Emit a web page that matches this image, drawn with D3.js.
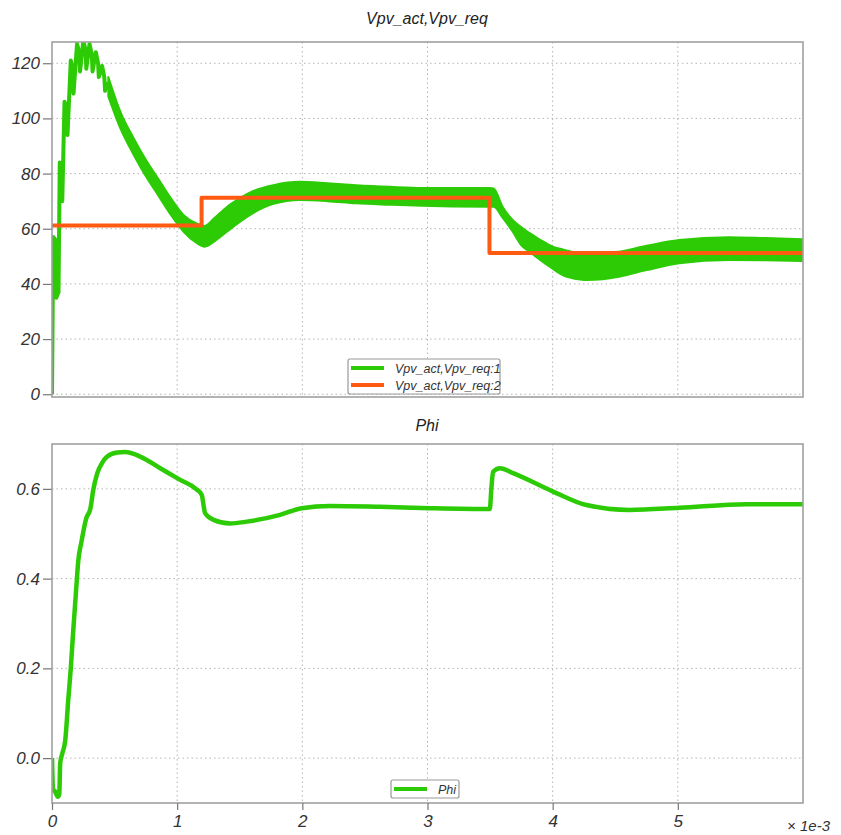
<!DOCTYPE html>
<html><head><meta charset="utf-8">
<script src="https://cdn.jsdelivr.net/npm/d3@7"></script>
<style>
body{margin:0;background:#fff;}
svg{display:block;font-family:"Liberation Sans",Arial,sans-serif;}
</style></head>
<body><div id="chart"></div>
<script>
// ---- data (time in units of 1e-3 s) ----
const xTicks = [0,1,2,3,4,5];
const vTicks = [0,20,40,60,80,100,120];
const phiTicks = [0.0,0.2,0.4,0.6];
const phiTickLabels = ["0.0","0.2","0.4","0.6"];

// Vpv_act early switching ripple (t, value)
const vActEarlyT = [0,0.010,0.028,0.034,0.052,0.062,0.078,0.082,0.100,0.118,0.124,0.150,0.166,0.172,0.200,0.218,0.224,0.250,0.268,0.274,0.300,0.318,0.324,0.350,0.368,0.374,0.400,0.418,0.424,0.450];
const vActEarlyV = [0,57,56,35,37,84,80,70,106,104,94,121,118,109,127,124,117,128,125,118,127,123,117,124,120,115,119,115,110,113];

// Vpv_act ripple band (lower / upper envelope)
const bandT  = [0.45,0.55,0.65,0.75,0.85,0.95,1.05,1.15,1.22,1.30,1.40,1.50,1.60,1.77,1.98,2.20,2.43,2.70,2.96,3.20,3.50,3.53,3.60,3.68,3.75,3.82,3.90,4.00,4.08,4.22,4.27,4.40,4.53,4.75,5.01,5.41,5.70,6.00];
const bandHi = [115,102,93,85,78,71,65,62,61,64,68,71,73.5,75.8,77,76.5,75.8,75.2,74.8,74.8,74.8,74.5,68,63.2,60.5,58.3,56,53.5,52.5,51.1,51,51.2,51.7,53.8,55.9,56.9,56.6,56.2];
const bandLo = [108,96,87,79,72,65,59,55,53.5,55.5,59,62.5,65.5,69,70.4,70,69.2,68.7,68.3,68.1,68,68,64,59,54,51.5,48.7,45.5,43.2,41.6,41.4,41.7,42.6,45,47.5,48.7,48.6,48.3];

// Vpv_req (step reference)
const vReqT = [0,1.195,1.195,3.495,3.495,6.0];
const vReqV = [61.2,61.2,71.2,71.2,51.2,51.2];

// Phi
const phiT = [0,0.008,0.026,0.046,0.058,0.066,0.082,0.106,0.130,0.150,0.170,0.194,0.210,0.234,0.274,0.306,0.330,0.362,0.401,0.441,0.521,0.585,0.705,0.865,1.024,1.150,1.197,1.210,1.223,1.290,1.423,1.556,1.822,1.995,2.221,2.620,3.020,3.498,3.510,3.524,3.578,3.684,4.003,4.270,4.615,5.014,5.547,6.0];
const phiV = [0.0,-0.068,-0.075,-0.086,-0.080,-0.010,0.010,0.040,0.130,0.200,0.285,0.380,0.440,0.480,0.535,0.555,0.598,0.635,0.658,0.672,0.681,0.682,0.672,0.646,0.620,0.600,0.586,0.565,0.546,0.531,0.523,0.527,0.542,0.557,0.562,0.560,0.557,0.555,0.600,0.638,0.646,0.635,0.594,0.564,0.553,0.558,0.566,0.566];

const legend1 = ["Vpv_act,Vpv_req:1","Vpv_act,Vpv_req:2"];
const legend2 = ["Phi"];

const GREEN = "#2ccb05", ORANGE = "#ff5a12";

// ---- layout ----
const W = 841, H = 835;
const svg = d3.select("#chart").append("svg").attr("width",W).attr("height",H);
const L = 52, R = 803;
const top1 = 42, bot1 = 397, top2 = 444, bot2 = 803;

const x = d3.scaleLinear().domain([0,6]).range([L,R]);
const y1 = d3.scaleLinear().domain([-1,127.7]).range([bot1,top1]);
const y2 = d3.scaleLinear().domain([-0.1,0.7]).range([bot2,top2]);

function panel(y, top, bot, ticks, labels, id){
  const g = svg.append("g");
  // grid
  g.selectAll(".gx").data(xTicks.filter(d=>d>0)).join("line")
    .attr("x1",d=>x(d)).attr("x2",d=>x(d)).attr("y1",top).attr("y2",bot)
    .attr("stroke","#b4b4b4").attr("stroke-width",1).attr("stroke-dasharray","1.5,3");
  g.selectAll(".gy").data(ticks).join("line")
    .attr("x1",L).attr("x2",R).attr("y1",d=>y(d)).attr("y2",d=>y(d))
    .attr("stroke","#b4b4b4").attr("stroke-width",1).attr("stroke-dasharray","1.5,3");
  // y axis
  const ax = d3.axisLeft(y).tickValues(ticks).tickSize(9).tickPadding(3)
    .tickFormat((d,i)=>labels[i]);
  const ag = g.append("g").attr("transform",`translate(${L},0)`).call(ax);
  ag.select(".domain").remove();
  ag.selectAll(".tick line").attr("stroke","#777").attr("stroke-width",1.2);
  ag.selectAll(".tick text").attr("font-size",17).attr("font-style","italic")
    .attr("fill","#333").attr("font-family","Liberation Sans, Arial, sans-serif");
  // clip
  svg.append("clipPath").attr("id",id).append("rect")
    .attr("x",L).attr("y",top).attr("width",R-L).attr("height",bot-top);
  return g;
}

const g1 = panel(y1, top1, bot1, vTicks, vTicks.map(String), "c1");
const g2 = panel(y2, top2, bot2, phiTicks, phiTickLabels, "c2");

// ---- top plot series ----
const p1 = svg.append("g").attr("clip-path","url(#c1)");
const band = bandT.map((t,i)=>({t, lo:bandLo[i], hi:bandHi[i]}));
p1.append("path").datum(band)
  .attr("d", d3.area().x(d=>x(d.t)).y0(d=>y1(d.lo)).y1(d=>y1(d.hi)).curve(d3.curveMonotoneX))
  .attr("fill",GREEN).attr("stroke",GREEN).attr("stroke-width",2).attr("stroke-linejoin","round");
const early = vActEarlyT.map((t,i)=>({t, v:vActEarlyV[i]}));
p1.append("path").datum(early)
  .attr("d", d3.line().x(d=>x(d.t)).y(d=>y1(d.v)))
  .attr("fill","none").attr("stroke",GREEN).attr("stroke-width",4).attr("stroke-linejoin","round");
const req = vReqT.map((t,i)=>({t, v:vReqV[i]}));
p1.append("path").datum(req)
  .attr("d", d3.line().x(d=>x(d.t)).y(d=>y1(d.v)))
  .attr("fill","none").attr("stroke",ORANGE).attr("stroke-width",4).attr("stroke-linejoin","round");

// ---- bottom plot series ----
const p2 = svg.append("g").attr("clip-path","url(#c2)");
const phi = phiT.map((t,i)=>({t, v:phiV[i]}));
p2.append("path").datum(phi)
  .attr("d", d3.line().x(d=>x(d.t)).y(d=>y2(d.v)).curve(d3.curveMonotoneX))
  .attr("fill","none").attr("stroke",GREEN).attr("stroke-width",4.5).attr("stroke-linejoin","round");

// frames
[[top1,bot1],[top2,bot2]].forEach(([t,b])=>{
  svg.append("rect").attr("x",L).attr("y",t).attr("width",R-L).attr("height",b-t)
    .attr("fill","none").attr("stroke","#a0a0a0").attr("stroke-width",1.6);
});

// x axis (bottom plot)
const xa = d3.axisBottom(x).tickValues(xTicks).tickSize(7).tickPadding(5).tickFormat(d3.format("d"));
const xg = svg.append("g").attr("transform",`translate(0,${bot2})`).call(xa);
xg.select(".domain").remove();
xg.selectAll(".tick line").attr("stroke","#777").attr("stroke-width",1.2);
xg.selectAll(".tick text").attr("font-size",17).attr("font-style","italic").attr("fill","#333")
  .attr("font-family","Liberation Sans, Arial, sans-serif");
svg.append("text").attr("x",830).attr("y",831).attr("text-anchor","end")
  .attr("font-size",15).attr("font-style","italic").attr("fill","#333").text("× 1e-3");

// titles
svg.append("text").attr("x",427).attr("y",24).attr("text-anchor","middle")
  .attr("font-size",16).attr("font-style","italic").attr("fill","#222").text("Vpv_act,Vpv_req");
svg.append("text").attr("x",427).attr("y",431).attr("text-anchor","middle")
  .attr("font-size",16).attr("font-style","italic").attr("fill","#222").text("Phi");

// legends
function legend(x0, y0, w, h, items, colors){
  const g = svg.append("g");
  g.append("rect").attr("x",x0).attr("y",y0).attr("width",w).attr("height",h).attr("rx",2)
    .attr("fill","#fff").attr("stroke","#999").attr("stroke-width",1.2);
  items.forEach((s,i)=>{
    const yy = y0 + 9 + i*17;
    g.append("line").attr("x1",x0+3).attr("x2",x0+36).attr("y1",yy).attr("y2",yy)
      .attr("stroke",colors[i]).attr("stroke-width",4);
    g.append("text").attr("x",x0+47).attr("y",yy+4.5).attr("font-size",12.5)
      .attr("font-style","italic").attr("fill","#333").text(s);
  });
}
legend(348, 359, 152, 35, legend1, [GREEN, ORANGE]);
legend(391, 780, 68, 18, legend2, [GREEN]);
</script></body></html>
